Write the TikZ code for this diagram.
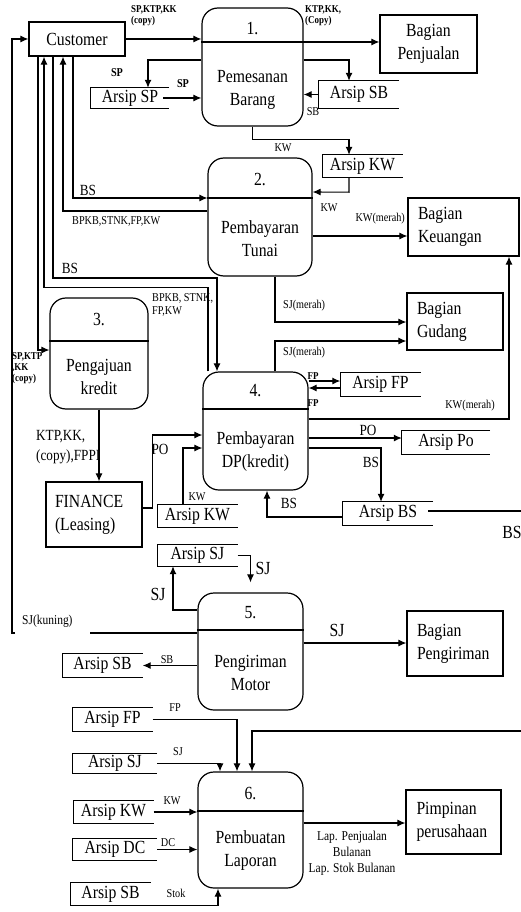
\documentclass[tikz,border=0pt]{standalone}
\usepackage{fontspec}
\setmainfont{Liberation Serif}[FakeStretch=0.85]
\usepackage{tikz}
\usetikzlibrary{positioning}
\usetikzlibrary{arrows.meta}
\newcommand{\besar}{\fontsize{18.5}{23}\selectfont}
\newcommand{\sedang}{\fontsize{15.5}{20}\selectfont}
\newcommand{\kecil}{\fontsize{12}{13}\selectfont}
\newcommand{\mini}{\fontsize{10.5}{11}\selectfont\bfseries}
\tikzstyle{alir} = [draw, line width=1.1pt, -{Latex[length=8pt,width=7pt]}]
\tikzstyle{garis} = [draw, line width=1.1pt]

\begin{document}
\begin{tikzpicture}[x=1pt, y=-1pt,
      entitas/.style={draw, rectangle, line width=1.2pt, font=\besar, inner sep=0pt},
      proses/.style={draw, rectangle, rounded corners=16pt, line width=1.2pt,
      minimum width=105pt, minimum height=118pt},
      arsip/.style={rectangle, font=\besar, inner sep=0pt, minimum width=80pt, minimum height=22pt},
      teks/.style={font=\besar, align=center},
      ket/.style={font=\kecil, inner sep=0pt},
      ketm/.style={font=\mini, inner sep=0pt, align=left},
      kets/.style={font=\sedang, inner sep=0pt}]
    \useasboundingbox (0,0) rectangle (521,912);
    %% entitas luar
    \node [entitas, minimum width=96pt, minimum height=34pt] (Customer) at (77,39) {Customer};
    \node [entitas, minimum width=97pt, minimum height=58pt, align=center] (Penjualan) at (428.5,44) {Bagian\\Penjualan};
    \node [entitas, minimum width=111pt, minimum height=58pt, text width=91pt, align=left] (Keuangan) at (463.5,227) {Bagian\\Keuangan};
    \node [entitas, minimum width=96pt, minimum height=57pt, text width=76pt, align=left] (Gudang) at (455,321.5) {Bagian\\Gudang};
    \node [entitas, minimum width=96pt, minimum height=65pt, text width=78pt, align=left] (FINANCE) at (94,514.5) {FINANCE\\(Leasing)};
    \node [entitas, minimum width=96pt, minimum height=65pt, text width=76pt, align=left] (Pengiriman) at (455,643.5) {Bagian\\Pengiriman};
    \node [entitas, minimum width=95pt, minimum height=64pt, text width=74pt, align=left] (Pimpinan) at (453.5,822) {Pimpinan\\perusahaan};
    %% proses
    \node [proses, minimum width=101pt] (P1) at (252.5,67) {};
    \node [proses, minimum width=104pt] (P2) at (260,217) {};
    \node [proses, minimum width=98pt, minimum height=111pt] (P3) at (99,353.5) {};
    \node [proses] (P4) at (255.5,431) {};
    \node [proses, minimum height=117pt] (P5) at (250.5,651.5) {};
    \node [proses, minimum height=116pt] (P6) at (250.5,830) {};
    \draw [garis] (P1.west |- 0,42) -- (P1.east |- 0,42);
    \draw [garis] (P2.west |- 0,198) -- (P2.east |- 0,198);
    \draw [garis] (P3.west |- 0,341) -- (P3.east |- 0,341);
    \draw [garis] (P4.west |- 0,409) -- (P4.east |- 0,409);
    \draw [garis] (P5.west |- 0,630) -- (P5.east |- 0,630);
    \draw [garis] (P6.west |- 0,811) -- (P6.east |- 0,811);
    \node [teks] (P1no) at (252.5,29) {1.};
    \node [teks] (P1nm) at (252.5,90) {Pemesanan\\Barang};
    \node [teks] (P2no) at (260,180) {2.};
    \node [teks] (P2nm) at (260,239) {Pembayaran\\Tunai};
    \node [teks] (P3no) at (99,320) {3.};
    \node [teks] (P3nm) at (99,377) {Pengajuan\\kredit};
    \node [teks] (P4no) at (255.5,391) {4.};
    \node [teks] (P4nm) at (255.5,452) {Pembayaran\\DP(kredit)};
    \node [teks] (P5no) at (250.5,613) {5.};
    \node [teks] (P5nm) at (250.5,673) {Pengiriman\\Motor};
    \node [teks] (P6no) at (250.5,793) {6.};
    \node [teks] (P6nm) at (250.5,851) {Pembuatan\\Laporan};
    %% arsip
    \node [arsip, minimum width=78pt, minimum height=20pt] (ASP) at (130,98) {Arsip SP};
    \node [arsip, minimum height=27pt] (ASB1) at (359,94.5) {Arsip SB};
    \node [arsip] (AKW1) at (362.5,166) {Arsip KW};
    \node [arsip, minimum height=23pt] (AFP1) at (380.5,384.5) {Arsip FP};
    \node [arsip, minimum width=88pt, minimum height=23pt] (APO) at (446,442.5) {Arsip Po};
    \node [arsip, minimum width=90pt, minimum height=23pt] (ABS) at (388,513.5) {Arsip BS};
    \node [arsip] (AKW2) at (197.5,516) {Arsip KW};
    \node [arsip, minimum height=21pt] (ASJ1) at (197.5,555.5) {Arsip SJ};
    \node [arsip, minimum height=23pt] (ASB2) at (102.5,665.5) {Arsip SB};
    \node [arsip, minimum height=23pt] (AFP2) at (112.5,719.5) {Arsip FP};
    \node [arsip, minimum width=84pt, minimum height=19pt] (ASJ2) at (115,763.5) {Arsip SJ};
    \node [arsip] (AKW3) at (113.5,812) {Arsip KW};
    \node [arsip, minimum width=84pt, minimum height=21pt] (ADC) at (115,849.5) {Arsip DC};
    \node [arsip] (ASB3) at (110.5,894) {Arsip SB};
    \foreach \a in {ASP,ASB1,AKW1,AFP1,APO,ABS,AKW2,ASJ1,ASB2,AFP2,ASJ2,AKW3,ADC,ASB3}
      \draw [garis] (\a.north east) -- (\a.north west) -- (\a.south west) -- (\a.south east);
    %% aliran data
    \draw [alir] (Customer.east) -- (Customer.east -| P1.west);
    \draw [alir] (P1.east |- 0,42) -- (Penjualan.west |- 0,42);
    \draw [alir] (P1.west |- 0,60) -| ([xshift=18pt]ASP.north);
    \draw [alir] ([xshift=-6pt]ASP.east) -- (ASP.east -| P1.west);
    \draw [alir] (P1.east |- 0,60) -| ([xshift=-10pt]ASB1.north);
    \draw [alir] (ASB1.west) -- (ASB1.west -| P1.east);
    \draw [alir] (P1.south) -- ++(0,13) -| ([xshift=-13.5pt]AKW1.north);
    \draw [alir] ([xshift=-13.5pt]AKW1.south) -- ++(0,15) -- (P2.east |- 0,192);
    \draw [alir] (P2.east |- 0,236) -- (Keuangan.west |- 0,236);
    \draw [alir] ([xshift=-4pt]Customer.south) |- (P2.west |- 0,198);
    \draw [alir] (P2.west |- 0,211) -| ([xshift=-14pt]Customer.south);
    \draw [alir] ([xshift=-24pt]Customer.south) |- (217,278) -- ([xshift=-38.5pt]P4.north);
    \draw [alir] ([xshift=-47.5pt]P4.north) -- ++(0,-84) -| ([xshift=-33pt]Customer.south);
    \draw [alir] ([xshift=-39pt]Customer.south) |- (P3.west |- 0,350);
    \coordinate (kuning) at (15,633);
    \draw [garis] (P5.west |- 0,633) -- (90,633);
    \draw [alir] (kuning) -- (12,633) |- (Customer.west);
    \draw [alir] ([xshift=15pt]P2.south) |- (Gudang.west |- 0,322);
    \draw [alir] ([xshift=19.5pt]P4.north) |- (Gudang.west |- 0,341);
    \draw [alir] (P4.east |- 0,419) -| ([xshift=45.5pt]Keuangan.south);
    \draw [alir] (P4.east |- 0,381) -- (AFP1.west |- 0,381);
    \draw [alir] (AFP1.west |- 0,388) -- (P4.east |- 0,388);
    \draw [alir] (P4.east |- 0,438) -- (APO.west |- 0,438);
    \draw [alir] (P4.east |- 0,448) -| ([xshift=-7pt]ABS.north);
    \draw [alir] (ABS.west |- 0,517) -| ([xshift=11.5pt]P4.south);
    \coordinate (bsout) at (521,511);
    \draw [garis] ([xshift=-5pt,yshift=2.5pt]ABS.east) -- (bsout);
    \draw [alir] (P3.south) -- (P3.south |- FINANCE.north);
    \draw [alir] (FINANCE.east |- 0,508) -- ++(10,0) |- (P4.west |- 0,435);
    \draw [alir] ([xshift=-14.5pt]AKW2.north) |- (P4.west |- 0,448);
    \draw [alir] (ASJ1.east) -| ([yshift=10pt]P5.north);
    \draw [alir] (P5.west |- 0,610) -| ([xshift=-24.5pt]ASJ1.south);
    \draw [alir] (P5.east |- 0,643) -- (Pengiriman.west |- 0,643);
    \draw [alir] (P5.west |- ASB2.east) -- (ASB2.east);
    \draw [alir] (AFP2.east) -| ([xshift=-13.5pt]P6.north);
    \draw [alir] (ASJ2.east) -| ([xshift=-30.5pt]P6.north);
    \coordinate (atas) at (521,731);
    \draw [alir] (atas) -| ([xshift=1.5pt]P6.north);
    \draw [alir] (AKW3.east) -- (P6.west |- AKW3.east);
    \draw [alir] (ADC.east) -- (P6.west |- ADC.east);
    \draw [alir] (ASB3.south east) -| ([xshift=-32.5pt]P6.south);
    \draw [alir] (P6.east |- 0,823) -- (Pimpinan.west |- 0,823);
    %% keterangan
    \node [ketm, anchor=north west] (tCP1) at (131,5) {SP,KTP,KK\\(copy)};
    \node [ketm, anchor=north west] (tP1J) at (305,5) {KTP,KK,\\(Copy)};
    \node [ket, font=\kecil\bfseries] (tSP1) at (117,73) {SP};
    \node [ket, font=\kecil\bfseries] (tSP2) at (183,84) {SP};
    \node [ket] (tSB1) at (313,112) {SB};
    \node [ket] (tKW1) at (283,148) {KW};
    \node [ket] (tKW2) at (329,208) {KW};
    \node [ket, anchor=east] (tKW3) at (405,219) {KW(merah)};
    \node [kets] (tBS1) at (88,190) {BS};
    \node [ket, anchor=west] (tBPKB1) at (72,221) {BPKB,STNK,FP,KW};
    \node [kets] (tBS2) at (70,268) {BS};
    \node [ket, anchor=north west, align=left] (tBPKB2) at (152,293) {BPKB, STNK,\\FP,KW};
    \node [ketm, anchor=north west] (tCP3) at (12,352) {SP,KTP\\,KK\\(copy)};
    \node [ket, anchor=west] (tSJ1) at (283,306) {SJ(merah)};
    \node [ket, anchor=west] (tSJ2) at (283,353) {SJ(merah)};
    \node [ket] (tKW4) at (470,406) {KW(merah)};
    \node [ketm] (tFP1) at (313,376) {FP};
    \node [ketm] (tFP2) at (313,403) {FP};
    \node [kets] (tPO1) at (368,430) {PO};
    \node [kets] (tBS3) at (371,462) {BS};
    \node [kets] (tBS4) at (289,503) {BS};
    \node [teks] (tBS5) at (512,532) {BS};
    \node [kets, anchor=north west, align=left] (tFIN) at (36,430) {KTP,KK,\\(copy),FPPI};
    \node [kets] (tPO2) at (160,449) {PO};
    \node [ket] (tKW5) at (197,497) {KW};
    \node [teks] (tSJ3) at (263,568) {SJ};
    \node [teks] (tSJ4) at (158,594) {SJ};
    \node [teks] (tSJ5) at (337,630) {SJ};
    \node [ket, anchor=west, font=\fontsize{13.5}{14}\selectfont] (tSJ6) at (22,621) {SJ(kuning)};
    \node [ket] (tSB2) at (167,660) {SB};
    \node [ket] (tFP3) at (175,708) {FP};
    \node [ket] (tSJ7) at (178,752) {SJ};
    \node [ket] (tKW6) at (172,801) {KW};
    \node [ket] (tDC) at (168,843) {DC};
    \node [ket] (tStok) at (176,893) {Stok};
    \node [ket, align=center, font=\fontsize{13.5}{16}\selectfont] (tLap) at (352,853) {Lap. Penjualan\\Bulanan\\Lap. Stok Bulanan};
  \end{tikzpicture}
\end{document}
